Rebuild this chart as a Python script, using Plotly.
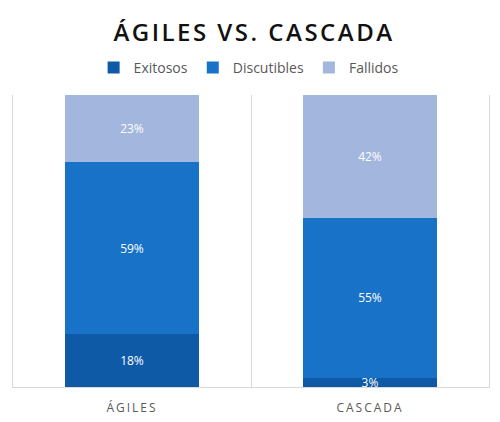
import plotly.graph_objects as go

categories = ["ÁGILES", "CASCADA"]
series_names = ["Exitosos", "Discutibles", "Fallidos"]
exitosos = [18, 3]
discutibles = [59, 55]
fallidos = [23, 42]
colors = ["#0E5AA7", "#1872C8", "#A3B6DE"]

# The page body adds an 8px offset; the figure is sized to fit the window.
W, H = 492, 414

fig = go.Figure()
for name, vals, col in zip(series_names, [exitosos, discutibles, fallidos], colors):
    fig.add_trace(go.Bar(
        name=name, x=categories, y=vals,
        marker=dict(color=col, line=dict(width=0)),
        text=[f"{v}%" for v in vals],
        textposition="inside", insidetextanchor="middle", textangle=0,
        textfont=dict(color="white", size=12, family="Open Sans"),
        hoverinfo="skip",
    ))

def spaced(s, px):
    return f'<span style="letter-spacing:{px}px">{s}</span>'

fig.update_layout(
    barmode="stack", bargap=0.44,
    width=W, height=H,
    margin=dict(l=5, r=11, t=87, b=35),
    paper_bgcolor="white", plot_bgcolor="white",
    title=dict(text=spaced("ÁGILES VS. CASCADA", 2.5), x=0.5, xanchor="center",
               y=(H - 25) / H, yanchor="middle",
               font=dict(family="Open Sans", size=24, color="#111111", weight=600)),
    legend=dict(orientation="h", x=0.495, xanchor="center", y=(H - 60) / H, yanchor="middle",
                yref="container", font=dict(family="Open Sans", size=14, color="#595959"),
                itemwidth=30, traceorder="normal"),
    uniformtext=dict(minsize=12, mode="show"),
    showlegend=True,
)
fig.update_xaxes(type="category", tickson="boundaries", showgrid=True, gridcolor="#D9D9D9",
                 gridwidth=1, showline=True, linecolor="#D9D9D9", ticks="",
                 tickvals=categories, ticktext=[spaced(c, 2) for c in categories],
                 ticklabelstandoff=10,
                 tickfont=dict(family="Open Sans", size=12, color="#595959"), fixedrange=True)
fig.update_yaxes(range=[0, 100], showgrid=False, showticklabels=False, zeroline=False,
                 showline=True, mirror=True, linecolor="#D9D9D9")

fig.write_html("out.html")
